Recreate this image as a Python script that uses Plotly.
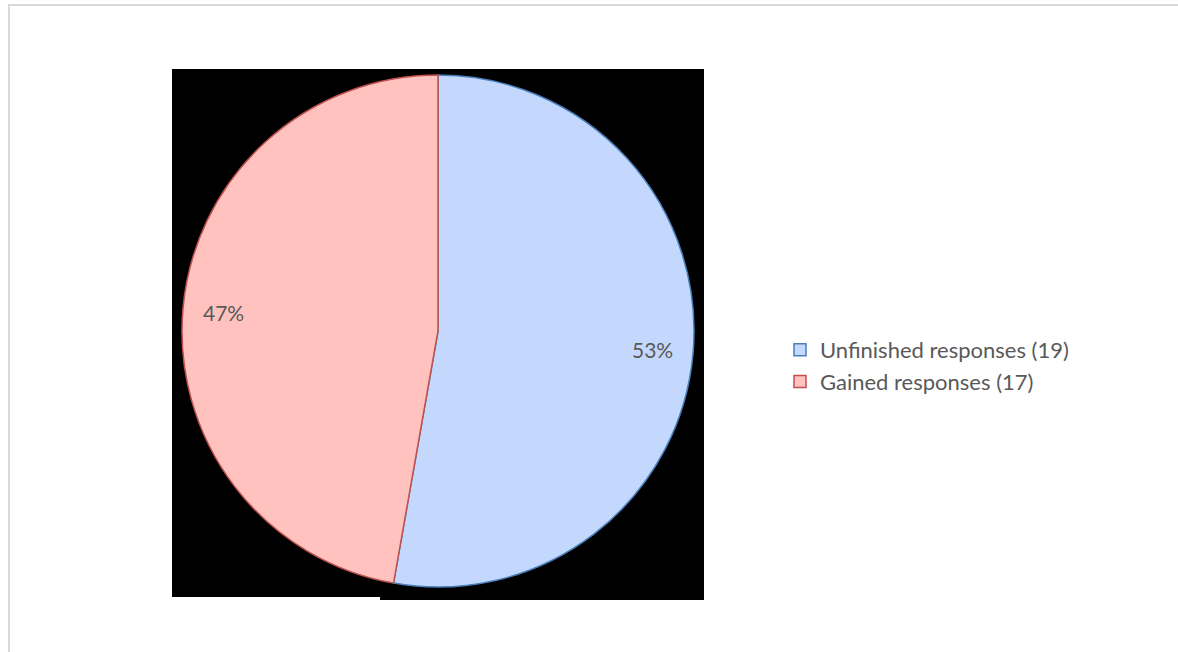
import math
import plotly.graph_objects as go

labels = ["Unfinished responses (19)", "Gained responses (17)"]
values = [19, 17]
fill_colors = ["#c3d8fc", "#ffc2bf"]
line_colors = ["#4a7ebb", "#c0504d"]

W, H = 1178, 652
FONT = "Lato, Carlito, sans-serif"
TXT = "#595959"

def px_x(x):
    return x / W

def px_y(y):
    return 1 - y / H

# pie geometry (pixels)
cx, cy, r = 438, 331, 256

fig = go.Figure()
fig.add_trace(go.Pie(
    labels=labels,
    values=values,
    sort=False,
    direction="clockwise",
    rotation=0,
    marker=dict(colors=fill_colors, line=dict(color=line_colors, width=1.5)),
    textinfo="none",
    domain=dict(x=[px_x(cx - r), px_x(cx + r)], y=[px_y(cy + r), px_y(cy - r)]),
    hoverinfo="label+value+percent",
))

# percentage labels placed along each slice's mid angle
total = sum(values)
annotations = []
cum = 0.0
for v in values:
    mid = (cum + v / 2) / total * 2 * math.pi
    cum += v
    rr = 0.84 * r
    x = cx + rr * math.sin(mid)
    y = cy - rr * math.cos(mid)
    annotations.append(dict(
        x=px_x(x), y=px_y(y), xref="paper", yref="paper",
        text=f"{round(100 * v / total)}%", showarrow=False,
        font=dict(family=FONT, size=21, color=TXT),
        xanchor="center", yanchor="middle",
    ))

fig.update_layout(
    width=W, height=H,
    margin=dict(l=0, r=0, t=0, b=0),
    paper_bgcolor="white",
    plot_bgcolor="white",
    showlegend=True,
    annotations=annotations,
    legend=dict(
        x=px_x(780), y=px_y(366), xanchor="left", yanchor="middle",
        font=dict(family=FONT, size=22, color=TXT),
        bgcolor="rgba(0,0,0,0)",
    ),
    shapes=[
        dict(type="rect", xref="paper", yref="paper",
             x0=px_x(9), x1=px_x(1185), y0=px_y(660), y1=px_y(5),
             line=dict(color="#d9d9d9", width=2), fillcolor="rgba(0,0,0,0)", layer="below"),
        dict(type="rect", xref="paper", yref="paper",
             x0=px_x(172), x1=px_x(704), y0=px_y(597), y1=px_y(69),
             line=dict(width=0), fillcolor="black", layer="below"),
        dict(type="rect", xref="paper", yref="paper",
             x0=px_x(380), x1=px_x(704), y0=px_y(600), y1=px_y(596),
             line=dict(width=0), fillcolor="black", layer="below"),
    ],
)

fig.write_html("out.html")
